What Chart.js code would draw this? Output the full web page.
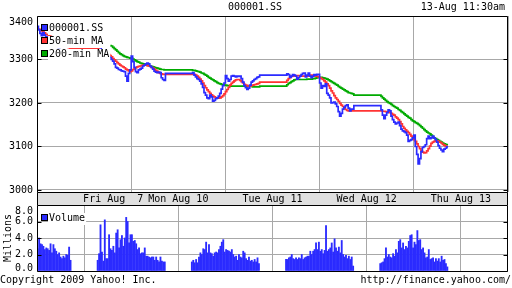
<!DOCTYPE html>
<html><head><meta charset="utf-8">
<script src="https://cdn.jsdelivr.net/npm/chart.js@4.4.1/dist/chart.umd.min.js"></script>
<style>
html,body{margin:0;padding:0;background:#fff;}
#wrap{position:relative;width:512px;height:288px;overflow:hidden;}
canvas{position:absolute;left:0;top:0;width:512px;height:288px;}
</style></head><body>
<div id="wrap"><canvas id="main" width="512" height="288"></canvas><canvas id="vol" width="512" height="288"></canvas></div>
<script>
const symbol = '000001.SS';
const stamp = '13-Aug 11:30am';
const copyright = 'Copyright 2009 Yahoo! Inc.';
const siteUrl = 'http://finance.yahoo.com/';
const days = ['Fri Aug  7','Mon Aug 10','Tue Aug 11','Wed Aug 12','Thu Aug 13'];
const slotTimes = ['09:35','09:40','09:45','09:50','09:55','10:00','10:05','10:10','10:15','10:20','10:25','10:30',
  '10:35','10:40','10:45','10:50','10:55','11:00','11:05','11:10','11:15','11:20','11:25','11:30',
  '13:05','13:10','13:15','13:20','13:25','13:30','13:35','13:40','13:45','13:50','13:55','14:00',
  '14:05','14:10','14:15','14:20','14:25','14:30','14:35','14:40','14:45','14:50','14:55','15:00'];
const priceTicks = [3000,3100,3200,3300,3400];
const volTicks = [0,2,4,6,8];

const price = [
  3378,3368,3360,3355,3362,3356,3350,3352,3345,3348,3342,3338,3340,3335,3332,3328,3330,3334,3338,3336,3340,3338,3342,3340,
  3336,3332,3328,3322,3318,3314,3310,3308,3306,3304,3300,3296,3290,3282,3280,3277,3276,3274,3273,3272,3262,3250,3268,3276,
  3308,3295,3282,3272,3270,3276,3278,3280,3285,3287,3290,3292,3290,3285,3282,3278,3273,3271,3270,3271,3270,3258,3254,3252,
  3268,3270,3264,3260,3256,3254,3250,3244,3236,3224,3218,3212,3210,3218,3214,3204,3206,3210,3212,3216,3222,3232,3240,3246,
  3263,3256,3250,3254,3262,3263,3262,3260,3262,3261,3262,3256,3248,3240,3235,3231,3234,3241,3248,3251,3254,3256,3259,3260,
  3264,3267,3265,3259,3262,3265,3264,3262,3255,3258,3262,3265,3268,3269,3260,3264,3269,3262,3258,3262,3265,3264,3266,3266,
  3246,3234,3240,3238,3244,3222,3218,3212,3200,3201,3202,3198,3192,3180,3170,3176,3186,3190,3194,3196,3188,3182,3186,3186,
  3194,3184,3172,3164,3172,3178,3184,3182,3170,3162,3156,3152,3154,3156,3148,3140,3136,3134,3132,3126,3112,3114,3116,3120,
  3126,3100,3082,3060,3072,3088,3098,3100,3104,3118,3124,3118,3120,3124,3120,3116,3110,3102,3096,3092,3088,3094,3096,3099
];
const ma50 = [
  3372,3370,3368,3366,3363,3361,3358,3357,3355,3353,3351,3349,3347,3345,3343,3341,3339,3337,3335,3333,3331,3329,3327,3326,
  3325,3324,3322,3320,3318,3316,3314,3312,3311,3309,3306,3302,3299,3296,3293,3290,3287,3285,3283,3281,3278,3276,3274,3272,
  3274,3277,3279,3281,3283,3284,3285,3286,3287,3287,3287,3286,3285,3284,3282,3280,3278,3275,3273,3270,3268,3267,3266,3266,
  3266,3266,3266,3264,3262,3259,3255,3251,3246,3240,3235,3230,3226,3222,3219,3216,3214,3212,3211,3211,3212,3214,3217,3221,
  3226,3231,3236,3241,3245,3248,3251,3253,3254,3254,3252,3249,3246,3243,3241,3240,3239,3239,3240,3241,3242,3243,3244,3245,
  3248,3252,3256,3259,3261,3262,3263,3263,3263,3263,3262,3262,3262,3262,3262,3262,3263,3264,3264,3264,3263,3262,3261,3260,
  3258,3256,3254,3251,3248,3244,3240,3234,3228,3223,3217,3212,3208,3204,3199,3195,3192,3188,3185,3183,3182,3182,3182,3182,
  3182,3182,3181,3181,3180,3180,3179,3178,3176,3174,3172,3168,3165,3162,3157,3152,3146,3142,3138,3135,3132,3128,3124,3120,
  3116,3112,3106,3100,3095,3090,3087,3085,3086,3090,3095,3101,3107,3110,3112,3113,3113,3112,3110,3108,3105,3103,3101,3100
];
const ma200 = [
  null,null,null,null,null,null,null,null,null,null,null,null,null,null,null,null,null,null,null,null,null,null,null,null,
  null,null,null,null,null,null,null,null,null,3334,3331,3328,3325,3322,3319,3316,3313,3311,3309,3307,3306,3305,3304,3303,
  3303,3301,3299,3297,3295,3294,3292,3291,3290,3289,3288,3287,3286,3285,3284,3283,3282,3281,3280,3279,3278,3277,3277,3276,
  3276,3275,3275,3274,3273,3272,3271,3269,3268,3266,3264,3262,3259,3257,3255,3253,3251,3249,3247,3245,3244,3243,3242,3241,
  3241,3240,3240,3239,3239,3239,3239,3239,3239,3239,3239,3239,3239,3239,3239,3238,3238,3238,3238,3237,3237,3237,3237,3237,
  3239,3242,3245,3247,3249,3251,3253,3254,3254,3254,3254,3254,3254,3254,3254,3255,3255,3255,3255,3256,3256,3257,3258,3259,
  3259,3259,3258,3257,3256,3255,3253,3251,3249,3247,3245,3243,3241,3238,3236,3234,3232,3230,3228,3226,3224,3223,3222,3221,
  3218,3215,3212,3209,3206,3203,3201,3199,3197,3194,3192,3190,3188,3185,3183,3180,3178,3175,3172,3170,3167,3165,3162,3159,
  3157,3155,3153,3151,3148,3145,3142,3139,3136,3133,3131,3129,3126,3123,3120,3118,3116,3114,3112,3110,3108,3106,3105,3104
];
const volume = [
  2.7,4.0,3.3,3.2,3.0,2.6,2.8,2.7,2.5,3.3,2.2,3.2,2.7,2.4,2.0,2.2,1.7,1.5,1.8,1.6,2.0,1.9,2.9,1.3,
  1.3,2.1,5.6,2.3,1.2,6.2,1.5,1.5,4.4,2.7,2.5,3.0,2.2,4.6,5.0,2.8,3.8,4.3,3.0,4.0,6.5,6.0,3.4,4.4,
  4.4,3.6,3.7,3.3,2.6,2.8,2.1,2.2,2.2,2.8,1.8,1.8,1.7,1.6,1.7,1.7,1.3,1.7,1.3,1.1,1.7,1.2,1.1,1.1,
  1.1,1.3,1.0,1.4,1.0,1.7,2.2,2.0,2.7,2.6,3.5,2.2,3.2,2.2,2.1,1.8,2.2,2.3,2.2,2.6,3.0,3.5,3.8,2.3,
  2.6,2.5,2.4,2.3,2.6,2.0,1.7,1.8,1.3,2.0,1.7,1.6,2.4,2.2,1.5,1.3,1.7,1.2,1.3,1.1,1.4,1.1,1.6,0.9,
  1.4,1.4,1.6,1.7,2.0,1.5,1.4,1.6,1.4,1.6,1.5,2.0,1.4,1.6,1.7,1.8,1.8,2.4,2.0,2.4,2.6,3.4,2.6,3.5,
  2.4,2.6,2.1,2.5,5.5,2.4,2.6,2.8,3.4,2.3,3.9,2.8,2.4,2.9,2.2,3.7,2.0,1.7,1.9,1.5,1.8,1.4,1.7,0.6,
  0.9,1.0,1.1,1.5,2.8,1.7,2.0,1.7,1.6,2.1,1.8,2.6,2.2,3.6,3.8,2.8,3.4,2.6,3.0,2.8,3.6,4.3,4.4,2.8,
  3.5,3.2,4.9,3.7,3.8,2.6,2.8,2.2,1.6,1.7,2.6,1.4,1.5,1.6,1.1,1.5,1.2,1.5,1.1,1.8,1.3,1.4,0.9,0.5
];

const FONT = '10px "DejaVu Sans Mono", "Liberation Mono", monospace';
const FONTFAM = '"DejaVu Sans Mono", "Liberation Mono", monospace';
const FONTOBJ = {family: FONTFAM, size:10, lineHeight:1.2};
const COL_PRICE = '#2b2bff', COL_MA50 = '#ff3333', COL_MA200 = '#00aa00', COL_VOL = '#2b2bff';
const GRID = '#a8a8a8';
const DAYLEN = 330;
const dayTicks = days.map((d,i)=>i*DAYLEN).concat([days.length*DAYLEN]);

const toMin = s => { const p = s.split(':').map(Number); return p[0]*60 + p[1] - 570; };
const times = price.map((_, i) => Math.floor(i/slotTimes.length)*DAYLEN + toMin(slotTimes[i%slotTimes.length]));
const pts = arr => arr.map((v,i)=>({x:times[i], y:v}));

function frameAndTicks(chart, yTicksList) {
  const ctx = chart.ctx, a = chart.chartArea, y = chart.scales.y;
  const l = Math.round(a.left)+0.5, r = Math.round(a.right)-0.5, t = Math.round(a.top)+0.5, b = Math.round(a.bottom)+0.5;
  ctx.save();
  ctx.strokeStyle = '#000'; ctx.lineWidth = 1;
  ctx.beginPath();
  ctx.moveTo(l,t); ctx.lineTo(r,t); ctx.lineTo(r,b); ctx.lineTo(l,b); ctx.closePath();
  ctx.stroke();
  ctx.beginPath();
  yTicksList.forEach(v => {
    const py = Math.round(y.getPixelForValue(v))+0.5;
    ctx.moveTo(l,py); ctx.lineTo(l+4,py);
    ctx.moveTo(r-4,py); ctx.lineTo(r,py);
  });
  ctx.stroke();
  ctx.restore();
}

function legendRows(ctx, rows, x0, y0, step) {
  ctx.save();
  ctx.font = FONT; ctx.textBaseline = 'middle'; ctx.textAlign = 'left';
  rows.forEach((rw, i) => {
    const yc = y0 + i*step;
    const w = ctx.measureText(rw.label).width;
    ctx.fillStyle = '#fff';
    ctx.fillRect(x0+7, yc-4, w+2, 12);
    ctx.fillStyle = rw.color;
    ctx.fillRect(x0, yc-3, 7, 7);
    ctx.strokeStyle = '#000'; ctx.lineWidth = 1;
    ctx.strokeRect(x0+0.5, yc-2.5, 6, 6);
    ctx.fillStyle = '#000';
    ctx.fillText(rw.label, x0+8, yc+1.5);
  });
  ctx.restore();
}

const mainPlugin = {
  id: 'mainDecor',
  afterDatasetsDraw(chart) {
    const rows = chart.data.datasets.map(d => ({label: d.label, color: d.borderColor}));
    legendRows(chart.ctx, rows, 41, 27, 13);
  },
  afterDraw(chart) {
    frameAndTicks(chart, priceTicks.slice(0, -1));
    const ctx = chart.ctx, a = chart.chartArea, xs = chart.scales.x;
    const l = Math.round(a.left), r = Math.round(a.right);
    ctx.save();
    ctx.fillStyle = '#e0e0e0';
    ctx.fillRect(l, 193, r-l, 12);
    ctx.strokeStyle = '#000'; ctx.lineWidth = 1;
    ctx.beginPath(); ctx.moveTo(l+0.5,192.5); ctx.lineTo(l+0.5,205.5); ctx.moveTo(r-0.5,192.5); ctx.lineTo(r-0.5,205.5); ctx.stroke();
    ctx.font = FONT; ctx.fillStyle = '#000'; ctx.textBaseline = 'middle'; ctx.textAlign = 'center';
    days.forEach((d, i) => {
      const t = i === 0 ? 267 : i*DAYLEN + DAYLEN/2;
      ctx.fillText(d, xs.getPixelForValue(t), 199.5);
    });
    ctx.fillText(symbol, 255, 7.5);
    ctx.textAlign = 'right';
    ctx.fillText(stamp, 505, 7.5);
    ctx.fillText(siteUrl, 511, 280.5);
    ctx.textAlign = 'left';
    ctx.fillText(copyright, 0, 280.5);
    ctx.restore();
  }
};

const volPlugin = {
  id: 'volDecor',
  afterDatasetsDraw(chart) {
    const rows = chart.data.datasets.map(d => ({label: d.label, color: d.backgroundColor}));
    legendRows(chart.ctx, rows, 41, 217, 13);
  },
  afterDraw(chart) { frameAndTicks(chart, volTicks.slice(1, -1)); }
};

const xScaleCfg = {
  type: 'linear', min: 0, max: days.length*DAYLEN,
  afterBuildTicks: s => { s.ticks = dayTicks.map(v => ({value: v})); },
  ticks: {display: false},
  grid: {color: GRID, lineWidth: 1, drawTicks: false},
  border: {display: false},
  afterFit: s => { s.height = 0; }
};

new Chart(document.getElementById('main'), {
  type: 'line',
  data: {datasets: [
    {label: symbol, data: pts(price), borderColor: COL_PRICE, borderWidth: 1.7, pointRadius: 0, stepped: 'after', order: 0},
    {label: '50-min MA', data: pts(ma50), borderColor: COL_MA50, borderWidth: 1.7, pointRadius: 0, stepped: 'after', order: 1},
    {label: '200-min MA', data: pts(ma200), borderColor: COL_MA200, borderWidth: 1.7, pointRadius: 0, stepped: 'after', order: 2}
  ]},
  options: {
    responsive: false, animation: false, events: [],
    layout: {padding: {left: 0, right: 4, top: 15, bottom: 96}},
    plugins: {legend: {display: false}, tooltip: {enabled: false}},
    scales: {
      x: xScaleCfg,
      y: {
        min: 2995.4, max: 3400,
        afterBuildTicks: s => { s.ticks = priceTicks.map(v => ({value: v})); },
        ticks: {font: FONTOBJ, color: '#000', padding: 4, autoSkip: false,
          callback: v => v === priceTicks[priceTicks.length-1] ? ['', String(v)] : String(v)},
        grid: {color: GRID, lineWidth: 1, drawTicks: false},
        border: {display: false},
        afterFit: s => { s.width = 37; }
      }
    }
  },
  plugins: [mainPlugin]
});

new Chart(document.getElementById('vol'), {
  type: 'bar',
  data: {datasets: [
    {label: 'Volume', data: volume.map((v,i) => ({x: times[i]-2.5, y: v})), backgroundColor: COL_VOL, borderWidth: 0, barThickness: 1.2}
  ]},
  options: {
    responsive: false, animation: false, events: [],
    layout: {padding: {left: 0, right: 4, top: 205, bottom: 17}},
    plugins: {legend: {display: false}, tooltip: {enabled: false}},
    scales: {
      x: Object.assign({}, xScaleCfg, {offset: false}),
      y: {
        min: 0, max: 8,
        afterBuildTicks: s => { s.ticks = volTicks.map(v => ({value: v})); },
        ticks: {
          font: c => (c.tick && c.tick.value === 0) ? {family: FONTFAM, size: 10, lineHeight: 0.45} : FONTOBJ,
          color: '#000', padding: 4, autoSkip: false,
          callback: v => v === volTicks[volTicks.length-1] ? ['', v.toFixed(1)] : (v === 0 ? [v.toFixed(1), ''] : v.toFixed(1))},
        grid: {color: GRID, lineWidth: 1, drawTicks: false},
        border: {display: false},
        title: {display: true, text: 'Millions', font: FONTOBJ, color: '#000', padding: {top: 2, bottom: 0}},
        afterFit: s => { s.width = 37; }
      }
    }
  },
  plugins: [volPlugin]
});
</script>
</body></html>
